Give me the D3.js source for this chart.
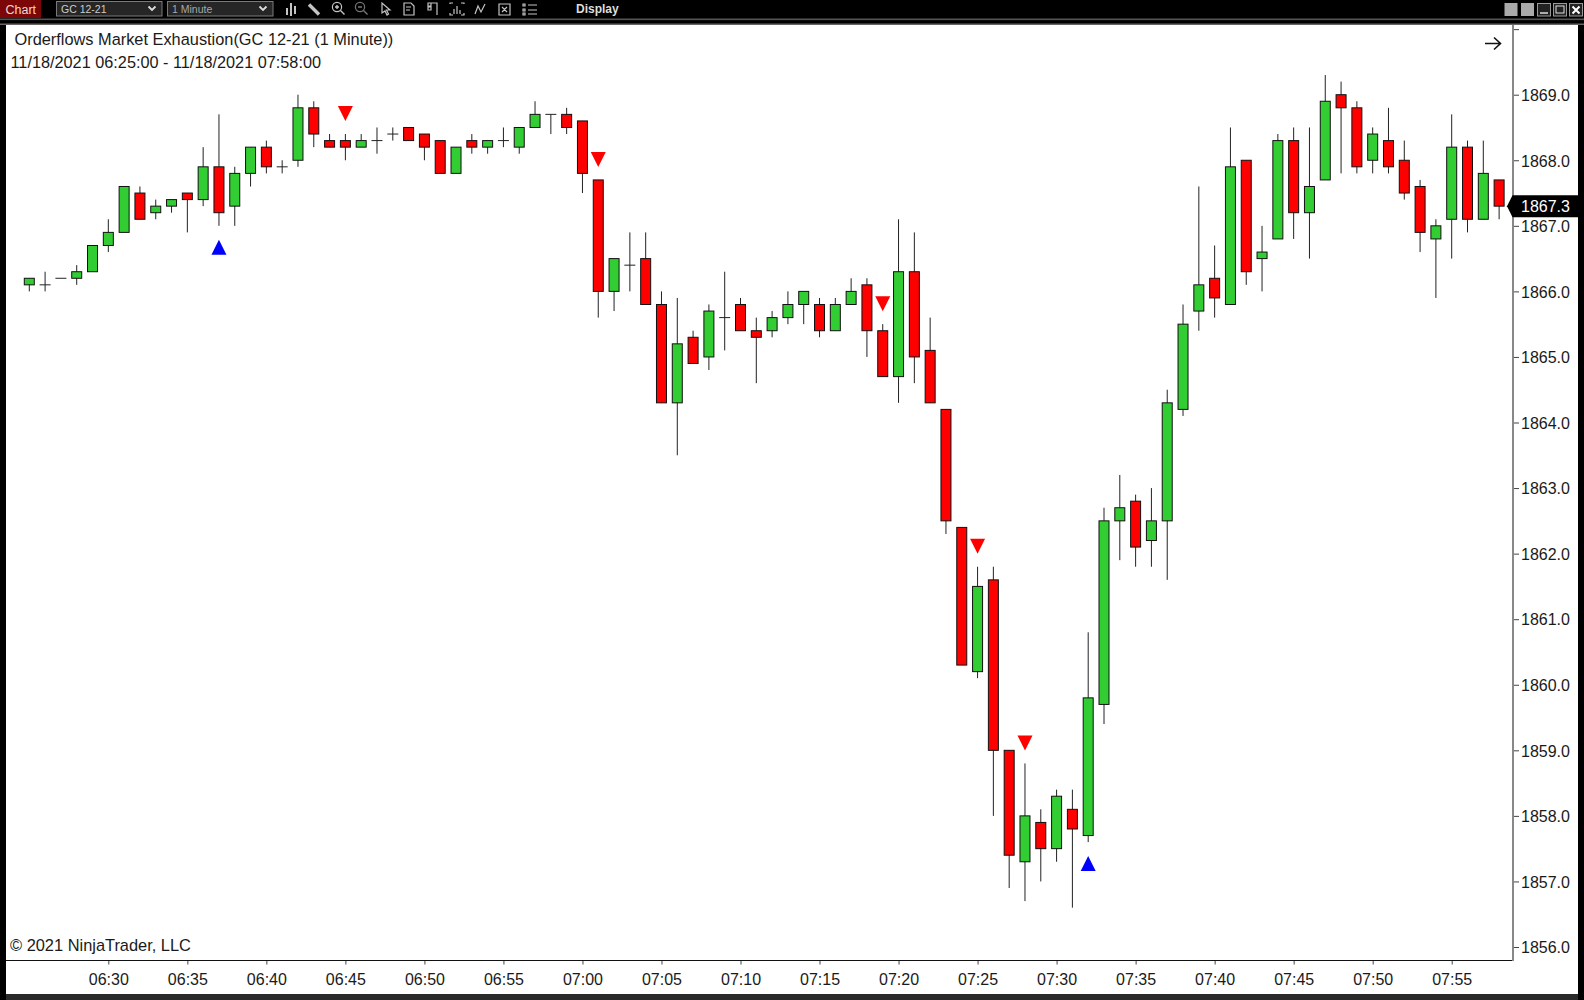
<!DOCTYPE html>
<html><head><meta charset="utf-8">
<script src="https://cdnjs.cloudflare.com/ajax/libs/d3/7.8.5/d3.min.js"></script>
<style>html,body{margin:0;padding:0;background:#000;overflow:hidden}svg{display:block}text{font-family:"Liberation Sans",Arial,sans-serif}</style>
</head><body><svg id="c" width="1584" height="1000"></svg>
<script>
const barTimes = [
"06:25","06:26","06:27","06:28","06:29","06:30","06:31","06:32","06:33","06:34",
"06:35","06:36","06:37","06:38","06:39","06:40","06:41","06:42","06:43","06:44",
"06:45","06:46","06:47","06:48","06:49","06:50","06:51","06:52","06:53","06:54",
"06:55","06:56","06:57","06:58","06:59","07:00","07:01","07:02","07:03","07:04",
"07:05","07:06","07:07","07:08","07:09","07:10","07:11","07:12","07:13","07:14",
"07:15","07:16","07:17","07:18","07:19","07:20","07:21","07:22","07:23","07:24",
"07:25","07:26","07:27","07:28","07:29","07:30","07:31","07:32","07:33","07:34",
"07:35","07:36","07:37","07:38","07:39","07:40","07:41","07:42","07:43","07:44",
"07:45","07:46","07:47","07:48","07:49","07:50","07:51","07:52","07:53","07:54",
"07:55","07:56","07:57","07:58"];
const opens = [
1866.1,1866.1,1866.2,1866.2,1866.3,1866.7,1866.9,1867.5,1867.2,1867.3,
1867.5,1867.4,1867.9,1867.3,1867.8,1868.2,1867.9,1868.0,1868.8,1868.3,
1868.3,1868.2,1868.3,1868.4,1868.5,1868.4,1868.3,1867.8,1868.3,1868.2,
1868.3,1868.2,1868.5,1868.7,1868.7,1868.6,1867.7,1866.0,1866.4,1866.5,
1865.8,1864.3,1865.3,1865.0,1865.6,1865.8,1865.4,1865.4,1865.6,1865.8,
1865.8,1865.4,1865.8,1866.1,1865.4,1864.7,1866.3,1865.1,1864.2,1862.4,
1860.2,1861.6,1859.0,1857.3,1857.9,1857.5,1858.1,1857.7,1859.7,1862.5,
1862.8,1862.2,1862.5,1864.2,1865.7,1866.2,1865.8,1868.0,1866.5,1866.8,
1868.3,1867.2,1867.7,1869.0,1868.8,1868.0,1868.3,1868.0,1867.6,1866.8,
1867.1,1868.2,1867.1,1867.7];
const closes = [
1866.2,1866.1,1866.2,1866.3,1866.7,1866.9,1867.6,1867.1,1867.3,1867.4,
1867.4,1867.9,1867.2,1867.8,1868.2,1867.9,1867.9,1868.8,1868.4,1868.2,
1868.2,1868.3,1868.3,1868.4,1868.3,1868.2,1867.8,1868.2,1868.2,1868.3,
1868.3,1868.5,1868.7,1868.7,1868.5,1867.8,1866.0,1866.5,1866.4,1865.8,
1864.3,1865.2,1864.9,1865.7,1865.6,1865.4,1865.3,1865.6,1865.8,1866.0,
1865.4,1865.8,1866.0,1865.4,1864.7,1866.3,1865.0,1864.3,1862.5,1860.3,
1861.5,1859.0,1857.4,1858.0,1857.5,1858.3,1857.8,1859.8,1862.5,1862.7,
1862.1,1862.5,1864.3,1865.5,1866.1,1865.9,1867.9,1866.3,1866.6,1868.3,
1867.2,1867.6,1868.9,1868.8,1867.9,1868.4,1867.9,1867.5,1866.9,1867.0,
1868.2,1867.1,1867.8,1867.3];
const highs = [
1866.2,1866.3,1866.2,1866.4,1866.7,1867.1,1867.6,1867.6,1867.4,1867.4,
1867.5,1868.2,1868.7,1867.9,1868.2,1868.3,1868.0,1869.0,1868.9,1868.4,
1868.4,1868.4,1868.5,1868.5,1868.5,1868.4,1868.3,1868.2,1868.4,1868.3,
1868.5,1868.5,1868.9,1868.7,1868.8,1868.6,1867.7,1866.5,1866.9,1866.9,
1866.0,1865.9,1865.4,1865.8,1866.3,1865.9,1865.6,1865.7,1866.0,1866.0,
1865.9,1865.9,1866.2,1866.2,1865.5,1867.1,1866.9,1865.6,1864.2,1862.4,
1861.8,1861.8,1859.0,1858.8,1858.1,1858.4,1858.4,1860.8,1862.7,1863.2,
1862.9,1863.0,1864.5,1865.8,1867.6,1866.7,1868.5,1868.0,1867.0,1868.4,
1868.5,1868.5,1869.3,1869.2,1868.9,1868.5,1868.8,1868.3,1867.7,1867.1,
1868.7,1868.3,1868.3,1867.7];
const lows = [
1866.0,1866.0,1866.2,1866.1,1866.3,1866.6,1866.9,1867.1,1867.1,1867.2,
1866.9,1867.3,1867.0,1867.0,1867.6,1867.8,1867.8,1867.9,1868.2,1868.2,
1868.0,1868.2,1868.1,1868.3,1868.3,1868.0,1867.8,1867.8,1868.1,1868.1,
1868.2,1868.1,1868.5,1868.4,1868.4,1867.5,1865.6,1865.7,1866.0,1865.8,
1864.3,1863.5,1864.9,1864.8,1865.1,1865.4,1864.6,1865.3,1865.5,1865.5,
1865.3,1865.4,1865.8,1865.0,1864.7,1864.3,1864.6,1864.3,1862.3,1860.3,
1860.1,1858.0,1856.9,1856.7,1857.0,1857.3,1856.6,1857.6,1859.4,1861.9,
1861.8,1861.8,1861.6,1864.1,1865.4,1865.6,1865.8,1866.1,1866.0,1866.8,
1866.8,1866.5,1867.7,1867.8,1867.8,1867.8,1867.8,1867.4,1866.6,1865.9,
1866.5,1866.9,1867.1,1867.1];
const exhaustionDown = ["06:45","07:01","07:19","07:25","07:28"];
const exhaustionUp = ["06:37","07:32"];
const timeTicks = ["06:30","06:35","06:40","06:45","06:50","06:55","07:00","07:05","07:10","07:15","07:20","07:25","07:30","07:35","07:40","07:45","07:50","07:55"];
const priceTicks = [1856,1857,1858,1859,1860,1861,1862,1863,1864,1865,1866,1867,1868,1869,1870];
const labelledPriceMax = 1869;
const lastPrice = 1867.3;
const titleText = "Orderflows Market Exhaustion(GC 12-21 (1 Minute))";
const rangeText = "11/18/2021 06:25:00 - 11/18/2021 07:58:00";
const copyrightText = "\u00a9 2021 NinjaTrader, LLC";

const parse = d3.timeParse("%H:%M"), fmt = d3.timeFormat("%H:%M");
const x = d3.scaleTime().domain([parse("06:25"), parse("07:55")]).range([29.3, 1451.7]);
const y = d3.scaleLinear().domain([1856, 1869]).range([947, 94.7]);
const bars = barTimes.map((t,i)=>({t:parse(t),key:t,o:opens[i],h:highs[i],l:lows[i],c:closes[i]}));
const byKey = new Map(bars.map(b=>[b.key,b]));
const svg = d3.select("#c");
const INK = "#1a1a1a";

// window frame
svg.append("rect").attr("width",1584).attr("height",1000).attr("fill","#000");
svg.append("rect").attr("x",0).attr("y",18.5).attr("width",1584).attr("height",1.6).attr("fill","#555");
svg.append("rect").attr("x",0).attr("y",23.5).attr("width",1584).attr("height",1.5).attr("fill","#666");
svg.append("rect").attr("x",6).attr("y",25).attr("width",1572).attr("height",969).attr("fill","#fff");
svg.append("rect").attr("x",6).attr("y",994).attr("width",1572).attr("height",6).attr("fill","#2a2a2a");

// toolbar
const tb = svg.append("g");
tb.append("rect").attr("x",0).attr("y",0).attr("width",41).attr("height",18).attr("fill","#7d0606");
tb.append("text").attr("x",5.5).attr("y",13.5).attr("font-size",12.5).attr("fill","#f3d6d6").text("Chart");
[[56.5,105.5,"GC 12-21","#ccc"],[167.5,105.5,"1 Minute","#a8a8a8"]].forEach(([bx,w,s,col])=>{
  tb.append("rect").attr("x",bx).attr("y",1.5).attr("width",w).attr("height",14.5).attr("fill","#262626").attr("stroke","#7a7a7a");
  tb.append("text").attr("x",bx+4.5).attr("y",13).attr("font-size",10.5).attr("fill",col).text(s);
  tb.append("path").attr("d",`M${bx+92} 6.5l3.5 3.5l3.5-3.5`).attr("fill","none").attr("stroke","#ddd").attr("stroke-width",1.8);
});
const ic = tb.append("g").attr("fill","none").attr("stroke","#c4c4c4").attr("stroke-width",1.2);
ic.append("path").attr("stroke-width",2).attr("d","M287 8v7M291 3v13M295 6v8");
ic.append("path").attr("stroke-width",3.4).attr("d","M309 4.5l10 10");
ic.append("circle").attr("cx",337).attr("cy",7).attr("r",4.6);
ic.append("path").attr("d","M335 7h4M337 5v4M340.5 10.5l4 4").attr("stroke-width",1.4);
ic.append("circle").attr("cx",360).attr("cy",7).attr("r",4.6).attr("stroke","#777");
ic.append("path").attr("d","M358 7h4M363.5 10.5l4 4").attr("stroke","#777").attr("stroke-width",1.4);
ic.append("path").attr("d","M382 3v10l3-2l2 4l1.5-1l-2-4h3.5z");
ic.append("path").attr("d","M404 3h7l3 3v9h-10zM406 7h5M406 10h4");
ic.append("path").attr("d","M428 3h9v12M428 3h3v3h-3zM428 7h3v3h-3z");
ic.append("path").attr("d","M450 4v-1h3M461 3h3v1M450 13v2h3M461 15h3v-2M454 14v-5M457 14v-8M460 14v-4");
ic.append("path").attr("d","M475 14l3-8l3 6l4-8");
ic.append("path").attr("d","M499 4h11v11h-11zM502 7l5 5M507 7l-5 5");
ic.append("path").attr("d","M523 4h2v2h-2zM523 9h2v2h-2zM523 13h2v2h-2zM528 5h9M528 10h9M528 14h9");
tb.append("text").attr("x",576).attr("y",13).attr("font-size",12).attr("font-weight","bold").attr("fill","#ddd").text("Display");
[1504.5,1521].forEach(bx=>tb.append("rect").attr("x",bx).attr("y",3).attr("width",13).attr("height",13).attr("fill","#aaa"));
[1537.5,1553.5,1569.5].forEach(bx=>tb.append("rect").attr("x",bx).attr("y",3.5).attr("width",13).attr("height",12.5).attr("fill","#222").attr("stroke","#999"));
tb.append("path").attr("d","M1540 13h8").attr("stroke","#ddd").attr("stroke-width",1.5);
tb.append("rect").attr("x",1556).attr("y",6).attr("width",8).attr("height",7).attr("fill","none").attr("stroke","#ddd");
tb.append("path").attr("d","M1572.5 6.5l7 7M1579.5 6.5l-7 7").attr("stroke","#fff").attr("stroke-width",2);

// axes
const axR = d3.axisRight(y).tickValues(priceTicks).tickSize(6).tickSizeOuter(0).tickPadding(2)
  .tickFormat(d=> d>labelledPriceMax ? "" : d3.format(".1f")(d));
const gR = svg.append("g").attr("transform","translate(1513,0)").call(axR);
gR.select(".domain").remove();
gR.selectAll("line").attr("stroke","#444");
gR.selectAll("text").attr("font-size",16).attr("fill",INK).attr("dy","0.36em").attr("font-family",'"Liberation Sans",Arial,sans-serif');
const axB = d3.axisBottom(x).tickValues(timeTicks.map(parse)).tickFormat(fmt).tickSize(4).tickSizeOuter(0).tickPadding(9);
const gB = svg.append("g").attr("transform","translate(0,960.5)").call(axB);
gB.select(".domain").remove();
gB.selectAll("line").attr("stroke","#444");
gB.selectAll("text").attr("font-size",16).attr("fill",INK).attr("font-family",'"Liberation Sans",Arial,sans-serif');
svg.append("line").attr("x1",6).attr("x2",1513).attr("y1",960.5).attr("y2",960.5).attr("stroke","#111");
svg.append("line").attr("x1",1513).attr("x2",1513).attr("y1",25).attr("y2",961).attr("stroke","#888").attr("stroke-width",2);

// candles
const W = 10;
const g = svg.append("g");
g.selectAll("line.w").data(bars).join("line").attr("class","w")
  .attr("x1",d=>x(d.t)).attr("x2",d=>x(d.t)).attr("y1",d=>y(d.h)).attr("y2",d=>y(d.l))
  .attr("stroke","#222").attr("stroke-width",1);
g.selectAll("rect.b").data(bars.filter(d=>d.o!==d.c)).join("rect").attr("class","b")
  .attr("x",d=>x(d.t)-W/2).attr("width",W)
  .attr("y",d=>y(Math.max(d.o,d.c))).attr("height",d=>Math.abs(y(d.o)-y(d.c)))
  .attr("fill",d=>d.c>d.o?"#32CD32":"#FF0000").attr("stroke","#111").attr("stroke-width",1);
g.selectAll("line.d").data(bars.filter(d=>d.o===d.c)).join("line").attr("class","d")
  .attr("x1",d=>x(d.t)-W/2-.5).attr("x2",d=>x(d.t)+W/2+.5).attr("y1",d=>y(d.o)).attr("y2",d=>y(d.o))
  .attr("stroke","#222").attr("stroke-width",1);

// exhaustion markers
g.selectAll("path.dn").data(exhaustionDown.map(k=>byKey.get(k))).join("path").attr("class","dn")
  .attr("transform",d=>`translate(${x(d.t)},${y(d.h)-13})`).attr("d","M-7.5 -15H7.5L0 0Z").attr("fill","#FF0000");
g.selectAll("path.up").data(exhaustionUp.map(k=>byKey.get(k))).join("path").attr("class","up")
  .attr("transform",d=>`translate(${x(d.t)},${y(d.l)+14})`).attr("d","M0 0L7.5 15H-7.5Z").attr("fill","#0000FF");

// last price tag
const tagY = y(lastPrice);
svg.append("path").attr("transform",`translate(0,${tagY})`).attr("d","M1507 0L1512.5 -11H1578V11H1512.5Z").attr("fill","#000");
svg.append("text").attr("x",1521).attr("y",tagY).attr("dy","0.36em").attr("font-size",16).attr("fill","#fff").text(d3.format(".1f")(lastPrice));

// labels
svg.append("text").attr("x",14.5).attr("y",45).attr("font-size",16.35).attr("fill",INK).text(titleText);
svg.append("text").attr("x",10.5).attr("y",68).attr("font-size",16.27).attr("fill",INK).text(rangeText);
svg.append("text").attr("x",10).attr("y",951).attr("font-size",16.4).attr("fill",INK).text(copyrightText);
svg.append("path").attr("d","M1485 43.5H1500M1494 37.5L1500.5 43.5L1494 49.5").attr("fill","none").attr("stroke","#111").attr("stroke-width",1.6);
</script></body></html>
